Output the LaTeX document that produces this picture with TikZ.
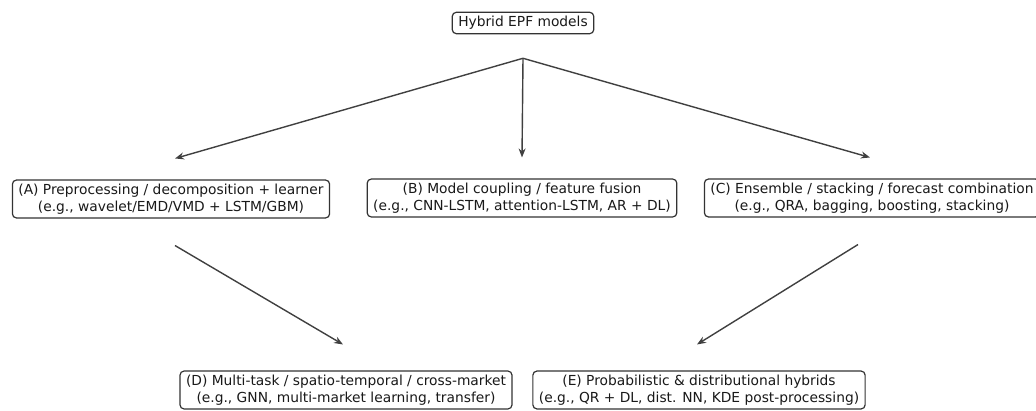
\documentclass[tikz,border=0pt]{standalone}
\usepackage{fontspec}
\setmainfont{DejaVu Sans}
\usetikzlibrary{arrows.meta}

\tikzset{box/.style={draw=black!80,line width=1.2pt,rounded corners=4pt,fill=white,align=center,inner xsep=6pt,inner ysep=4pt,text=black!90,font=\fontsize{13.8}{16.5}\selectfont},
arr/.style={draw=black!75,line width=1.4pt,-{Stealth[length=9pt,width=7pt]}}}

\begin{document}
\begin{tikzpicture}[x=1pt,y=-1pt]
\useasboundingbox (0,0) rectangle (1036,411);
\clip (0,0) rectangle (1036,411);
\node[box] (top) at (523,23) {Hybrid EPF models};
\node[box] (A) at (171,199) {(A) Preprocessing / decomposition + learner\\(e.g., wavelet/EMD/VMD + LSTM/GBM)};
\node[box] (B) at (522,198) {(B) Model coupling / feature fusion\\(e.g., CNN-LSTM, attention-LSTM, AR + DL)};
\node[box] (C) at (872,198) {(C) Ensemble / stacking / forecast combination\\(e.g., QRA, bagging, boosting, stacking)};
\node[box] (D) at (346,390) {(D) Multi-task / spatio-temporal / cross-market\\(e.g., GNN, multi-market learning, transfer)};
\node[box] (E) at (699,390) {(E) Probabilistic \& distributional hybrids\\(e.g., QR + DL, dist. NN, KDE post-processing)};

\coordinate (hub) at ([yshift=-24pt]top.south);
\draw[arr] (hub) -- ([xshift=4pt,yshift=21pt]A.north);
\draw[arr] (hub) -- ([yshift=21pt]B.north);
\draw[arr] (hub) -- ([xshift=-2pt,yshift=21pt]C.north);
\draw[arr] ([xshift=4pt,yshift=-27pt]A.south) -- ([xshift=-3pt,yshift=26pt]D.north);
\draw[arr] ([xshift=-14pt,yshift=-27pt]C.south) -- ([xshift=-2pt,yshift=26pt]E.north);
\end{tikzpicture}
\end{document}
